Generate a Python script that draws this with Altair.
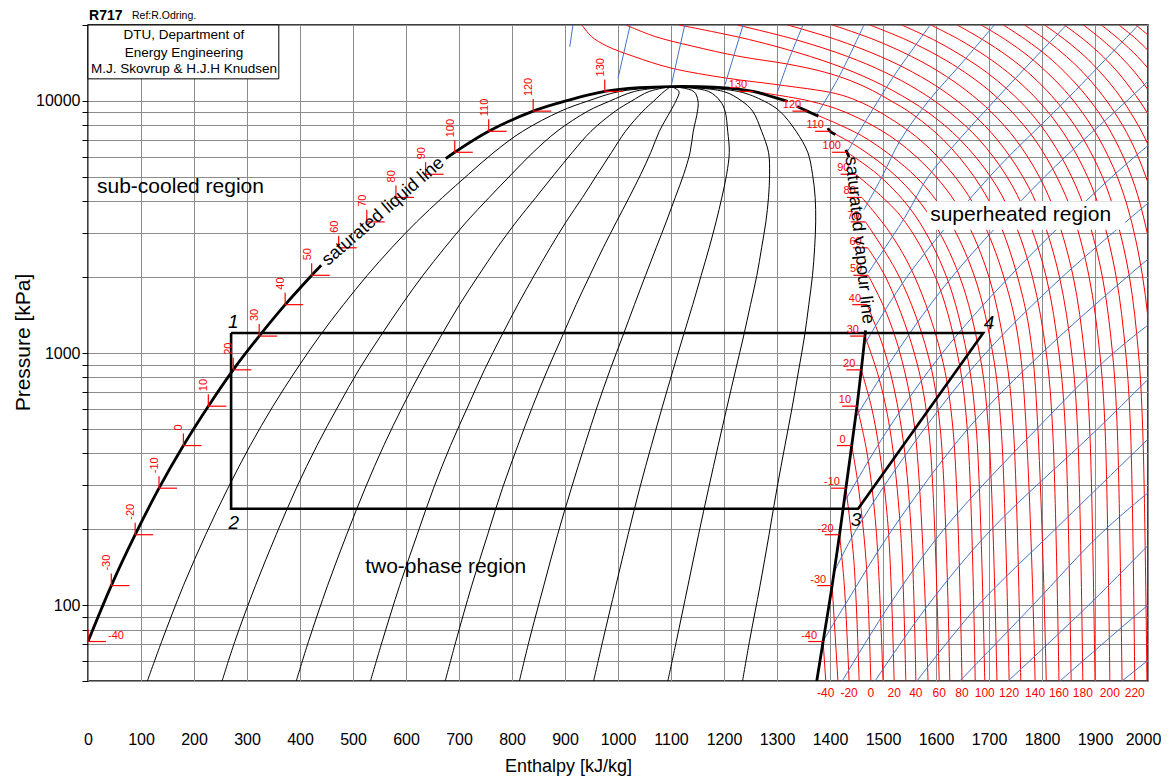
import altair as alt
import pandas as pd

FONT = "Liberation Sans"
RED = "#ff0000"
BLUE = "#4472c4"
GRID = "#8c8c8c"

# ---------------- saturation data ----------------
SAT_T = [-40, -30, -20, -10, 0, 10, 20, 30, 40, 50, 60, 70, 80, 90, 100, 110, 120, 130]
SAT_P = [71.7, 119.5, 190.2, 290.9, 429.4, 615.2, 857.5, 1167, 1555, 2033, 2614, 3312,
         4141, 5116, 6254, 7575, 9107, 10900]
SAT_HF = [0, 44, 89, 134, 180, 227, 274, 323, 372, 422, 473, 526, 581, 637, 692, 756, 840, 975]
SAT_HG = [1387, 1404, 1418, 1430, 1441, 1451, 1459, 1466, 1470, 1472, 1471, 1467, 1460,
          1448, 1432, 1400, 1357, 1255]

# saturation dome, split where the line labels sit on it
DOME_A_H = [0, 44, 89, 134, 180, 227, 274, 323, 372, 422, 440]
DOME_A_P = [71.7, 119.5, 190.2, 290.9, 429.4, 615.2, 857.5, 1167, 1555, 2033, 2230]
DOME_B_H = [675, 692, 756, 840, 900, 975, 1040, 1100, 1180, 1255, 1292, 1320]
DOME_B_P = [5900, 6254, 7575, 9107, 9970, 10900, 11280, 11400, 11330, 10900, 10370, 9970]
DOME_D_H = [1338, 1357, 1378]
DOME_D_P = [9500, 9107, 8700]
DOME_E_H = [1396, 1400, 1410]
DOME_E_P = [7800, 7575, 7350]
DOME_F_H = [1430, 1432, 1436]
DOME_F_P = [6400, 6254, 5980]
DOME_C_H = [1467, 1466, 1459, 1451, 1441, 1430, 1418, 1404, 1387, 1375]
DOME_C_P = [1230, 1167, 857.5, 615.2, 429.4, 290.9, 190.2, 119.5, 71.7, 50]

# ---------------- constant-quality lines ----------------
Q_P = [50, 71.7, 119.5, 190.2, 290.9, 429.4, 615.2, 857.5, 1167, 1555, 2033, 2614, 3312,
       4141, 5116, 6254, 7575, 9107, 9970, 10900, 11400]
Q_H = {
    "q1": [112, 139, 180, 222, 264, 306, 349, 393, 437, 482, 527, 573, 620, 669, 718, 766, 820, 892, 942, 1003, 1100],
    "q2": [253, 277, 316, 355, 393, 432, 472, 511, 552, 592, 632, 673, 714, 757, 799, 840, 885, 943, 984, 1031, 1100],
    "q3": [393, 416, 452, 488, 523, 558, 594, 630, 666, 701, 737, 772, 808, 845, 880, 914, 949, 995, 1025, 1059, 1100],
    "q4": [533, 555, 588, 621, 652, 684, 717, 748, 780, 811, 842, 872, 902, 933, 961, 988, 1014, 1047, 1067, 1087, 1100],
    "q5": [674, 694, 724, 754, 782, 811, 839, 867, 895, 921, 947, 972, 997, 1021, 1043, 1062, 1078, 1099, 1109, 1115, 1100],
    "q6": [814, 832, 860, 886, 912, 937, 961, 985, 1009, 1031, 1052, 1072, 1091, 1108, 1124, 1136, 1142, 1150, 1151, 1143, 1100],
    "q7": [954, 971, 996, 1019, 1041, 1063, 1084, 1104, 1123, 1141, 1157, 1172, 1185, 1196, 1205, 1210, 1207, 1202, 1193, 1171, 1100],
    "q8": [1094, 1110, 1132, 1152, 1171, 1189, 1206, 1222, 1237, 1250, 1262, 1271, 1279, 1284, 1286, 1284, 1271, 1254, 1234, 1199, 1100],
    "q9": [1235, 1248, 1268, 1285, 1300, 1315, 1329, 1341, 1352, 1360, 1367, 1371, 1373, 1372, 1367, 1358, 1336, 1305, 1276, 1227, 1100],
}

# ---------------- isotherms (red) ----------------
ISO_SUB = {
    -40: ([50, 71.7], [1392, 1387]),
    -30: ([50, 119.5], [1415, 1404]),
    -20: ([50, 120, 190.2], [1436, 1427, 1418]),
    -10: ([50, 150, 290.9], [1455, 1445, 1430]),
    0: ([50, 150, 300, 429.4], [1477, 1468, 1453, 1441]),
    10: ([50, 200, 400, 615.2], [1500, 1487, 1470, 1451]),
    20: ([50, 200, 400, 600, 857.5], [1521, 1510, 1494, 1479, 1459]),
    30: ([50, 200, 500, 800, 1167], [1543, 1533, 1513, 1492, 1466]),
    40: ([50, 200, 500, 1000, 1555], [1562, 1553, 1535, 1504, 1470]),
    50: ([50, 500, 1000, 1500, 2033], [1585, 1560, 1532, 1503, 1472]),
    60: ([50, 500, 1000, 2000, 2614], [1606, 1586, 1559, 1505, 1471]),
    70: ([50, 500, 1000, 2000, 3312], [1626, 1608, 1584, 1531, 1467]),
    80: ([50, 500, 1000, 2000, 3000, 4141], [1649, 1632, 1609, 1560, 1513, 1460]),
    90: ([50, 500, 1000, 2000, 3500, 5116], [1674, 1659, 1640, 1599, 1533, 1448]),
    100: ([50, 500, 1000, 2000, 3500, 5000, 6254], [1692, 1676, 1658, 1620, 1561, 1495, 1432]),
    110: ([50, 500, 1000, 2000, 3500, 5000, 6500, 7575], [1715, 1699, 1682, 1645, 1588, 1526, 1456, 1400]),
    120: ([50, 500, 1000, 2000, 3500, 5000, 7000, 8000, 9107], [1738, 1723, 1707, 1673, 1620, 1562, 1473, 1420, 1357]),
    130: ([50, 500, 1000, 2000, 3500, 5000, 7000, 9000, 10000, 10900], [1760, 1746, 1731, 1700, 1652, 1600, 1524, 1430, 1360, 1255]),
    140: ([50, 1000, 2000, 3500, 5000, 7000, 9000, 10000, 10700, 11600, 12300, 13500, 15000, 16500, 18000, 20000],
          [1787, 1759, 1728, 1683, 1636, 1570, 1495, 1452, 1410, 1300, 1206, 1100, 1030, 979, 950, 932]),
    150: ([50, 1000, 2000, 3500, 5000, 7000, 9000, 10000, 11000, 12000, 13000, 14000, 15000, 16500, 18000, 20000],
          [1808, 1782, 1754, 1714, 1672, 1614, 1551, 1515, 1480, 1440, 1390, 1320, 1230, 1140, 1070, 1015]),
}
SC_P = [50, 500, 1000, 2000, 3500, 5000, 7000, 9000, 11000, 13000, 15000, 17500, 20000]
ISO_SC = {
    160: [1832, 1820, 1808, 1782, 1743, 1703, 1646, 1585, 1518, 1445, 1363, 1248, 1115],
    170: [1855, 1844, 1832, 1808, 1771, 1734, 1682, 1626, 1567, 1503, 1433, 1335, 1225],
    180: [1877, 1867, 1856, 1833, 1799, 1764, 1716, 1666, 1613, 1556, 1495, 1412, 1320],
    190: [1900, 1890, 1880, 1859, 1827, 1795, 1751, 1705, 1657, 1607, 1554, 1483, 1405],
    200: [1928, 1919, 1909, 1889, 1859, 1828, 1787, 1744, 1700, 1654, 1606, 1543, 1475],
    210: [1951, 1942, 1933, 1914, 1885, 1856, 1817, 1778, 1737, 1695, 1651, 1595, 1535],
    220: [1975, 1967, 1958, 1940, 1913, 1886, 1849, 1812, 1774, 1735, 1695, 1644, 1590],
    230: [1998, 1990, 1982, 1965, 1939, 1914, 1879, 1844, 1809, 1773, 1736, 1688, 1640],
    240: [2021, 2014, 2006, 1990, 1966, 1942, 1909, 1876, 1843, 1809, 1775, 1731, 1685],
    250: [2044, 2037, 2030, 2014, 1991, 1969, 1938, 1907, 1875, 1843, 1811, 1769, 1727],
    260: [2068, 2061, 2054, 2040, 2018, 1996, 1967, 1937, 1907, 1877, 1846, 1807, 1767],
    270: [2092, 2086, 2079, 2065, 2044, 2023, 1996, 1967, 1939, 1910, 1881, 1843, 1805],
    280: [2116, 2110, 2104, 2091, 2071, 2051, 2024, 1998, 1970, 1943, 1915, 1879, 1842],
    290: [2140, 2134, 2128, 2116, 2097, 2078, 2052, 2027, 2001, 1975, 1948, 1913, 1878],
    300: [2164, 2159, 2153, 2141, 2123, 2105, 2081, 2056, 2031, 2006, 1980, 1946, 1912],
    310: [2189, 2184, 2178, 2167, 2150, 2132, 2109, 2086, 2061, 2037, 2011, 1979, 1945],
    320: [2214, 2209, 2204, 2193, 2176, 2160, 2137, 2115, 2091, 2067, 2043, 2010, 1977],
    330: [2238, 2233, 2228, 2217, 2202, 2186, 2164, 2142, 2120, 2097, 2073, 2041, 2008],
}
BOTTOM_T = [-40, -20, 0, 20, 40, 60, 80, 100, 120, 140, 160, 180, 200, 220]

# ---------------- isentropes (blue) ----------------
ISENTROPES = {
    "s01": ([16400, 20000], [909, 915]),
    "s02": ([12300, 20000], [1000, 1023]),
    "s03": ([11400, 20000], [1100, 1126]),
    "s04": ([11600, 20000], [1202, 1236]),
    "s05": ([10700, 14500, 20000], [1300, 1322, 1349]),
    "s06": ([8800, 12700, 20000], [1375, 1419, 1464]),
    "s07": ([6254, 8500, 12500, 20000], [1432, 1470, 1520, 1589]),
    "s08": ([3700, 5000, 7000, 10000, 14000, 20000], [1464, 1498, 1533, 1586, 1647, 1710]),
    "s09": ([2080, 3500, 5000, 7000, 10000, 15000, 20000], [1472, 1543, 1585, 1643, 1710, 1789, 1846]),
    "s10": ([1070, 2000, 5000, 10000, 20000], [1464, 1545, 1701, 1844, 1982]),
    "s11": ([552, 1000, 2000, 5000, 10000, 12500], [1448, 1525, 1630, 1805, 1960, 2010]),
    "s12": ([254, 500, 1000, 2000, 5000, 7500], [1426, 1510, 1612, 1738, 1932, 2030]),
    "s13": ([134, 200, 500, 1000, 2000, 5000], [1407, 1450, 1578, 1694, 1838, 2060]),
    "s14": ([72, 100, 200, 500, 1000, 2000, 3000], [1387, 1428, 1518, 1660, 1800, 1960, 2060]),
    "s15": ([50, 100, 200, 500, 1000, 2000], [1423, 1512, 1615, 1790, 1935, 2120]),
    "s16": ([50, 100, 200, 500, 1000], [1485, 1585, 1705, 1905, 2050]),
    "s17": ([50, 100, 200, 500], [1564, 1680, 1825, 2020]),
    "s18": ([50, 100, 200, 500], [1645, 1783, 1920, 2150]),
    "s19": ([50, 100, 200], [1736, 1888, 2030]),
    "s20": ([50, 100, 200], [1834, 2000, 2180]),
    "s21": ([50, 100], [1951, 2130]),
}

# ---------------- refrigeration cycle ----------------
CYCLE_H = [270, 270, 1453, 1689, 270]
CYCLE_P = [1200, 241, 241, 1200, 1200]
CYCLE_LABELS = ["1", "2", "3", "4"]
CYCLE_LABEL_H = [274, 275, 1449, 1700]
CYCLE_LABEL_P = [1327, 211, 217, 1315]

Y_GRID = [50, 60, 70, 80, 90, 100, 200, 300, 400, 500, 600, 700, 800, 900,
          1000, 2000, 3000, 4000, 5000, 6000, 7000, 8000, 9000, 10000, 20000]
X_GRID = list(range(0, 2001, 100))

# ---------------- build tables ----------------
def long_table(curves):
    rows = []
    for key, (ps, hs) in curves.items():
        for i, (p, h) in enumerate(zip(ps, hs)):
            rows.append({"id": str(key), "i": i, "p": p, "h": h})
    return pd.DataFrame(rows)

iso_curves = dict(ISO_SUB)
for T, hs in ISO_SC.items():
    iso_curves[T] = (SC_P, hs)
iso_df = long_table(iso_curves)
ise_df = long_table(ISENTROPES)
q_df = long_table({k: (Q_P, v) for k, v in Q_H.items()})
dome_df = long_table({"a": (DOME_A_P, DOME_A_H), "b": (DOME_B_P, DOME_B_H),
                      "d": (DOME_D_P, DOME_D_H), "e": (DOME_E_P, DOME_E_H),
                      "f": (DOME_F_P, DOME_F_H), "c": (DOME_C_P, DOME_C_H)})
cyc_df = long_table({"cycle": (CYCLE_P, CYCLE_H)})

sat = pd.DataFrame({"T": SAT_T, "p": SAT_P, "hf": SAT_HF, "hg": SAT_HG})
liq_v = pd.DataFrame({"h": sat.hf, "h2": sat.hf, "p": sat.p, "p2": sat.p * 1.116})
liq_h = pd.DataFrame({"h": sat.hf, "h2": sat.hf + 34, "p": sat.p, "p2": sat.p})
vap_h = pd.DataFrame({"h": sat.hg - 28, "h2": sat.hg, "p": sat.p, "p2": sat.p})
ticks_df = pd.concat([liq_v, liq_h, vap_h], ignore_index=True)

liq_lab = pd.DataFrame({"h": sat.hf, "p": sat.p * 1.116, "t": sat["T"].astype(str)})
liq_lab_rot = liq_lab[sat["T"] > -40]
liq_lab_m40 = liq_lab[sat["T"] == -40].assign(p=SAT_P[0])
vap_lab = pd.DataFrame({"h": sat.hg, "p": sat.p, "t": sat["T"].astype(str)})
bot_lab = pd.DataFrame({"h": [iso_curves[t][1][0] for t in BOTTOM_T], "p": 50,
                        "t": [str(t) for t in BOTTOM_T]})
cyc_lab = pd.DataFrame({"h": CYCLE_LABEL_H, "p": CYCLE_LABEL_P, "t": CYCLE_LABELS})

XS = alt.Scale(domain=[0, 2000], nice=False, zero=False)
YS = alt.Scale(type="log", domain=[50, 20000], nice=False)

X_AXIS = alt.Axis(values=X_GRID, title="Enthalpy [kJ/kg]", grid=True, ticks=False,
                  domain=False, labelPadding=50, labelFontSize=16, labelFont=FONT,
                  labelColor="black", labelFlush=False, labelOverlap=False, format="d",
                  labelOffset={"condition": {"test": "datum.value == 2000", "value": -5},
                               "value": 0},
                  titleFont=FONT, titleFontSize=18, titleFontWeight="normal",
                  titleColor="black", titleX=480, titleY=85, titleBaseline="middle",
                  titleAlign="center", gridColor=GRID, gridWidth=1)
Y_AXIS = alt.Axis(values=Y_GRID, title="Pressure [kPa]", grid=True, ticks=True, tickSize=6,
                  tickColor="black", domain=False, labelPadding=2, labelFontSize=16,
                  labelFont=FONT, labelColor="black", labelOverlap=False,
                  labelExpr="(datum.value == 100 || datum.value == 1000 || datum.value == 10000) ? format(datum.value, 'd') : ''",
                  titleFont=FONT, titleFontSize=21, titleFontWeight="normal",
                  titleColor="black", titleX=-65, titleY=317, titleAngle=270,
                  titleAlign="center", titleBaseline="middle", gridColor=GRID, gridWidth=1)


def X(field="h"):
    return alt.X(f"{field}:Q", scale=XS, axis=X_AXIS, title="Enthalpy [kJ/kg]")


def Y(field="p"):
    return alt.Y(f"{field}:Q", scale=YS, axis=Y_AXIS, title="Pressure [kPa]")


def curves(df, color, width):
    return alt.Chart(df).mark_line(color=color, strokeWidth=width, clip=True,
                                   interpolate="catmull-rom").encode(
        x=X(), y=Y(), detail="id:N", order="i:Q")


iso_layer = curves(iso_df, RED, 1)
ise_layer = curves(ise_df, BLUE, 1)
q_layer = curves(q_df, "black", 1)
dome_layer = curves(dome_df, "black", 2.8)
cyc_layer = alt.Chart(cyc_df).mark_line(color="black", strokeWidth=2.6, clip=True).encode(
    x=X(), y=Y(), order="i:Q")

ticks_layer = alt.Chart(ticks_df).mark_rule(color=RED, strokeWidth=1.2).encode(
    x=X(), x2="h2:Q", y=Y(), y2="p2:Q")


def text_layer(df, **kw):
    base = dict(font=FONT, color=RED, fontSize=11)
    base.update(kw)
    return alt.Chart(df).mark_text(**base).encode(x=X(), y=Y(), text="t:N")


liq_rot_layer = text_layer(liq_lab_rot, angle=270, align="left", baseline="bottom", dx=3, dy=1)
liq_m40_layer = text_layer(liq_lab_m40, align="left", baseline="alphabetic", dx=20, dy=-3)
vap_lab_layer = text_layer(vap_lab, align="right", baseline="alphabetic", dx=-6, dy=-3)
bot_lab_layer = text_layer(bot_lab, align="center", baseline="middle", dy=12, fontSize=12)

cyc_lab_layer = alt.Chart(cyc_lab).mark_text(font=FONT, fontSize=19, fontStyle="italic",
                                             color="black", baseline="middle").encode(
    x=X(), y=Y(), text="t:N")

# annotations
ann = pd.DataFrame({
    "t": ["sub-cooled region", "two-phase region", "superheated region"],
    "h": [17, 523, 1589],
    "p": [4560, 141.4, 3530],
})
region_layer = alt.Chart(ann).mark_text(font=FONT, fontSize=21, color="black",
                                        align="left", baseline="middle").encode(
    x=X(), y=Y(), text="t:N")
sh_box = alt.Chart(pd.DataFrame({"h": [1583], "h2": [1957], "p": [3080], "p2": [4000]})).mark_rect(
    color="white").encode(x=X(), x2="h2:Q", y=Y(), y2="p2:Q")

liq_txt = alt.Chart(pd.DataFrame({"t": ["saturated liquid line"], "h": [557], "p": [3640]})).mark_text(
    font=FONT, fontSize=18, color="black", angle=319, align="center", baseline="middle").encode(
    x=X(), y=Y(), text="t:N")
vap_txt = alt.Chart(pd.DataFrame({"t": ["saturated vapour line"], "h": [1455], "p": [2800]})).mark_text(
    font=FONT, fontSize=18, color="black", angle=84, align="center", baseline="middle").encode(
    x=X(), y=Y(), text="t:N")

info_box = alt.Chart(pd.DataFrame({"h": [0], "h2": [360], "p": [12230], "p2": [20000]})).mark_rect(
    fill="white", stroke="black", strokeWidth=1).encode(x=X(), x2="h2:Q", y=Y(), y2="p2:Q")
info_txt = alt.Chart(pd.DataFrame({
    "t": ["DTU, Department of", "Energy Engineering", "M.J. Skovrup & H.J.H Knudsen"],
    "h": [181, 181, 181], "p": [18290, 15500, 13400]})).mark_text(
    font=FONT, fontSize=13.5, color="black", align="center", baseline="middle").encode(
    x=X(), y=Y(), text="t:N")
r717 = alt.Chart(pd.DataFrame({"t": ["R717"], "h": [2], "p": [21700]})).mark_text(
    font=FONT, fontSize=14, fontWeight="bold", color="black", align="left",
    baseline="middle").encode(x=X(), y=Y(), text="t:N")
ref = alt.Chart(pd.DataFrame({"t": ["Ref:R.Odring."], "h": [83], "p": [21700]})).mark_text(
    font=FONT, fontSize=10.5, color="black", align="left", baseline="middle").encode(
    x=X(), y=Y(), text="t:N")

chart = alt.layer(
    iso_layer, ise_layer, q_layer, dome_layer, cyc_layer, ticks_layer,
    liq_rot_layer, liq_m40_layer, vap_lab_layer, bot_lab_layer, cyc_lab_layer,
    sh_box, region_layer, liq_txt, vap_txt, info_box, info_txt, r717, ref,
).properties(
    width=1060, height=656,
    autosize=alt.AutoSizeParams(type="none"),
    padding={"left": 80, "top": 17, "right": 13, "bottom": 95},
).configure_view(stroke="black", strokeWidth=1.5)

chart.save("out.html", embed_options={"renderer": "svg", "actions": False})
